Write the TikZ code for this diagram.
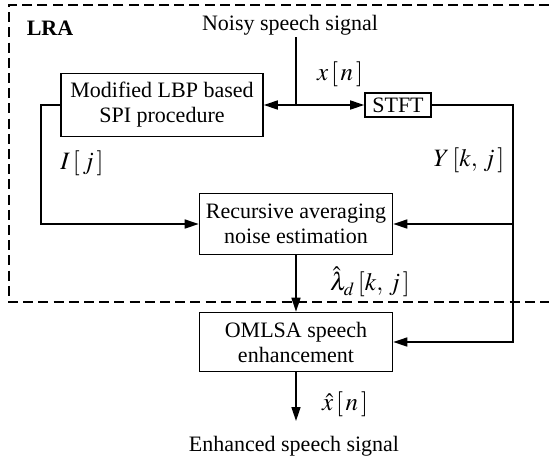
\documentclass[tikz,border=0pt]{standalone}
\usepackage{mathptmx}
\usepackage{fontspec}
\setmainfont{Liberation Serif}
\usetikzlibrary{arrows.meta}

\newlength{\du}
\setlength{\du}{0.5pt}

\tikzset{
  blk/.style={draw, line width=0.8pt, align=center, inner sep=0pt, font=\fontsize{11}{12.5}\selectfont},
  lbl/.style={inner sep=1pt, font=\fontsize{11}{12.5}\selectfont},
  sig/.style={inner sep=0pt, font=\fontsize{12.5}{14}\selectfont},
  arr/.style={-{Triangle[length=7pt,width=4.5pt]}, line width=0.8pt},
  wire/.style={line width=0.8pt}
}

\begin{document}
\begin{tikzpicture}
\pgftransformxscale{1.000000}
\pgftransformyscale{-1.000000}
\useasboundingbox (0\du,0\du) rectangle (549\du,462\du);
% LRA frame
\draw[line width=0.8pt, dash pattern=on 5pt off 2.6pt] (549\du,5\du)--(9\du,5\du)--(9\du,302\du)--(549\du,302\du);
\node[lbl, font=\fontsize{11}{12.5}\selectfont\bfseries] (lra) at (50\du,28\du){LRA};
% blocks
\node[lbl] (noisy) at (290\du,25\du){Noisy speech signal};
\node[blk, minimum width=202\du, minimum height=63\du] (lbp) at (162\du,105\du){Modified LBP based\\SPI procedure};
\node[blk, minimum width=66\du, minimum height=24\du] (stft) at (398\du,105\du){STFT};
\node[blk, minimum width=193\du, minimum height=61\du] (rae) at (296\du,224\du){Recursive averaging\\noise estimation};
\node[blk, minimum width=193\du, minimum height=59\du] (omlsa) at (296\du,342\du){OMLSA speech\\enhancement};
\node[lbl] (enh) at (294\du,446\du){Enhanced speech signal};
% corners
\coordinate (jn) at (296\du,105\du);
\coordinate (lt) at (41\du,105\du);
\coordinate (rt) at (513\du,105\du);
\coordinate (out) at (296\du,421\du);
% connectors
\draw[wire] (noisy.south -| jn)--(jn);
\draw[arr] (jn)--(lbp.east);
\draw[arr] (jn)--(stft.west);
\draw[arr] (stft.east)--(rt) |- (rae.east);
\draw[arr] (rt) |- (omlsa.east);
\draw[arr] (lbp.west)--(lt) |- (rae.west);
\draw[arr] (rae.south)--(omlsa.north);
\draw[arr] (omlsa.south)--(out);
% signal labels
\node[sig] (xn) at (340\du,74\du){$x\,[\,n\,]$};
\node[sig] (ykj) at (469\du,160\du){$Y\,[k,\,j\,]$};
\node[sig] (ij) at (82\du,163\du){$I\,[\,j\,]$};
\node[sig] (lam) at (370\du,282\du){$\hat{\lambda}_d\,[k,\,j\,]$};
\node[sig] (xh) at (345\du,404\du){$\hat{x}\,[\,n\,]$};
\end{tikzpicture}
\end{document}
